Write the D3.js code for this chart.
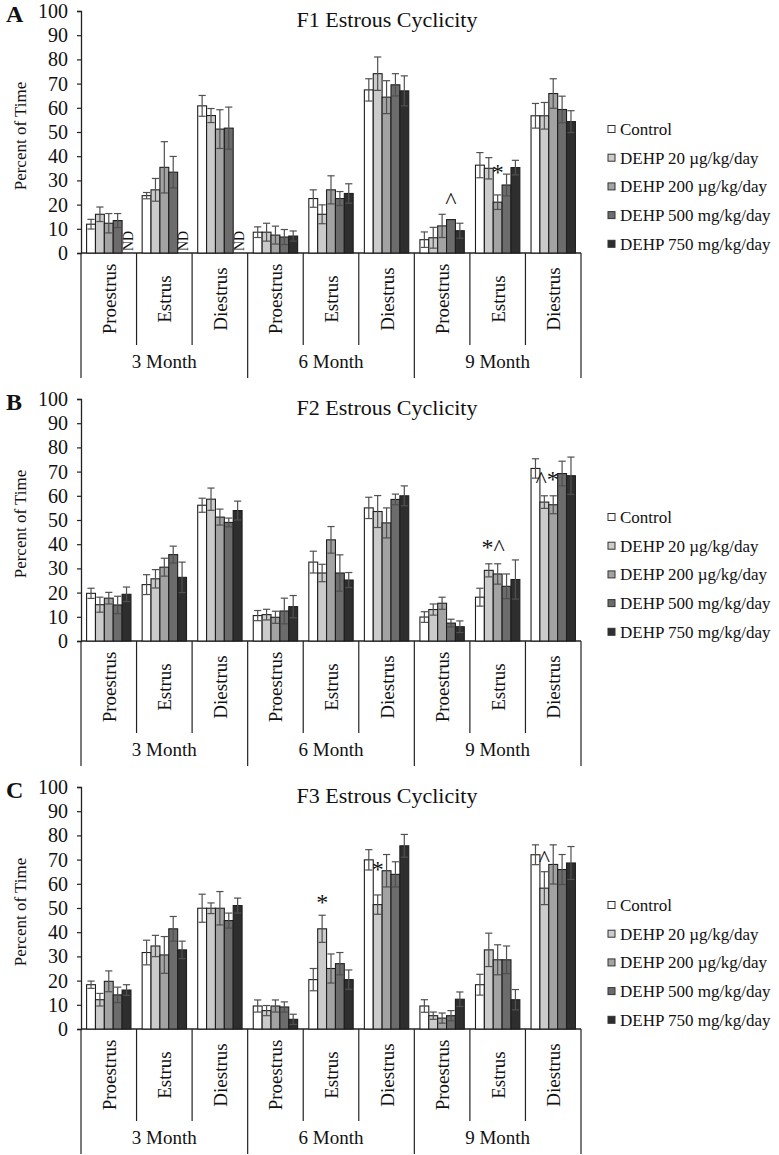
<!DOCTYPE html>
<html>
<head>
<meta charset="utf-8">
<script src="https://cdn.jsdelivr.net/npm/d3@7"></script>
<style>
html,body{margin:0;padding:0;background:#fff;}
svg text{font-family:"Liberation Serif","Times New Roman",serif;fill:#111;}
</style>
</head>
<body>
<svg id="chart" width="779" height="1155"></svg>
<script>
// ---------------- DATA ----------------
const months = ["3 Month", "6 Month", "9 Month"];
const phases = ["Proestrus", "Estrus", "Diestrus"];
const seriesNames = ["Control", "DEHP 20 µg/kg/day", "DEHP 200 µg/kg/day", "DEHP 500 mg/kg/day", "DEHP 750 mg/kg/day"];
const seriesColors = ["#ffffff", "#cbcbcb", "#a3a3a3", "#6c6c6c", "#2e2e2e"];
const yTicks = [0, 10, 20, 30, 40, 50, 60, 70, 80, 90, 100];
const panelLetters = ["A", "B", "C"];
const panelTitles = ["F1 Estrous Cyclicity", "F2 Estrous Cyclicity", "F3 Estrous Cyclicity"];

// values per series, categories ordered 3mo P,E,D, 6mo P,E,D, 9mo P,E,D (null = ND)
const f1Means = [
  [11.9, 23.7, 60.8, 8.6, 22.5, 67.4, 5.5, 36.3, 56.7],
  [16.0, 26.1, 56.8, 8.6, 16.0, 74.1, 6.3, 35.0, 56.7],
  [12.3, 35.4, 51.2, 7.4, 26.1, 64.4, 11.2, 21.0, 65.9],
  [13.4, 33.4, 51.6, 6.6, 22.5, 69.5, 13.8, 28.1, 59.3],
  [null, null, null, 7.0, 24.6, 67.0, 9.2, 35.3, 54.3]
];
const f1Errors = [
  [2.0, 1.3, 4.3, 2.2, 3.6, 4.6, 3.2, 5.2, 5.1],
  [3.0, 4.7, 2.9, 3.7, 3.9, 6.9, 4.3, 4.4, 5.5],
  [4.0, 10.6, 8.0, 3.7, 5.8, 6.8, 4.8, 3.0, 6.1],
  [2.9, 6.5, 8.7, 3.1, 2.9, 4.6, 0.0, 4.5, 5.5],
  [null, null, null, 2.1, 4.0, 6.2, 3.1, 3.0, 4.5]
];
const f2Means = [
  [19.7, 23.3, 56.1, 10.5, 32.6, 55.0, 9.9, 18.1, 71.3],
  [15.0, 25.7, 58.6, 10.9, 28.1, 53.5, 13.0, 29.2, 57.4],
  [17.7, 30.5, 51.2, 9.8, 41.8, 48.8, 15.6, 27.7, 56.3],
  [14.9, 35.7, 49.0, 12.4, 28.1, 58.5, 7.4, 22.6, 69.2],
  [19.3, 26.3, 53.9, 14.2, 25.2, 60.0, 5.9, 25.4, 68.3]
];
const f2Errors = [
  [2.1, 4.1, 2.9, 2.1, 4.5, 4.4, 2.2, 3.7, 4.0],
  [3.1, 3.8, 4.6, 2.2, 3.6, 6.6, 2.3, 2.7, 2.6],
  [2.4, 3.7, 3.3, 2.5, 5.5, 6.2, 2.5, 4.2, 3.7],
  [3.6, 3.5, 1.8, 5.3, 7.5, 2.2, 1.6, 5.1, 5.1],
  [3.0, 6.3, 3.9, 4.6, 3.1, 4.1, 2.4, 8.1, 7.7]
];
const f3Means = [
  [18.3, 31.6, 49.9, 9.5, 20.4, 69.9, 9.5, 18.3, 72.0],
  [12.1, 34.3, 49.9, 7.6, 41.4, 51.4, 5.5, 32.7, 58.2],
  [19.7, 30.6, 49.9, 9.5, 25.0, 65.4, 4.5, 28.6, 68.0],
  [14.1, 41.4, 44.8, 9.1, 27.0, 63.9, 5.5, 28.6, 65.9],
  [16.1, 32.7, 51.0, 4.0, 20.4, 75.7, 12.3, 12.1, 68.6]
];
const f3Errors = [
  [1.5, 5.1, 5.8, 2.5, 4.6, 4.2, 2.6, 4.3, 4.1],
  [2.6, 4.4, 2.2, 2.1, 5.6, 4.0, 1.5, 6.9, 6.8],
  [4.3, 7.6, 6.9, 2.5, 6.0, 6.7, 2.1, 6.2, 8.1],
  [3.2, 5.1, 3.1, 2.1, 4.6, 5.2, 2.1, 5.7, 6.2],
  [2.2, 3.6, 3.1, 2.1, 4.0, 4.7, 3.0, 4.2, 6.8]
];
// significance marks: [category index, series position, label, value at baseline]
const f1Marks = [[6, 3, "^", 18.5], [7, 2, "*", 30.0]];
const f2Marks = [[7, 1.5, "*^", 35.6], [8, 1.3, "^*", 63.7]];
const f3Marks = [[4, 1, "*", 49.2], [5, 1, "*", 62.8], [8, 1, "^", 67.4]];

const panels = [
  {means: f1Means, errors: f1Errors, marks: f1Marks},
  {means: f2Means, errors: f2Errors, marks: f2Marks},
  {means: f3Means, errors: f3Errors, marks: f3Marks}
];

// ---------------- LAYOUT ----------------
const svg = d3.select("#chart");
const X0 = 81, X1 = 581;
const PANEL_BASE = [253, 641, 1029];
const PLOT_H = 242;
const SERIF = '"Liberation Serif","Times New Roman",serif';

const categories = [];
months.forEach(m => phases.forEach(p => categories.push(m + "|" + p)));

const xCat = d3.scaleBand().domain(categories).range([X0, X1]).paddingInner(0).paddingOuter(0);
const xSer = d3.scaleBand().domain(d3.range(seriesNames.length)).range([0, xCat.bandwidth()]).paddingInner(0).paddingOuter(0.63);
const serCenter = s => xSer(0) + (s + 0.5) * xSer.step();

panels.forEach((pd, pi) => {
  const base = PANEL_BASE[pi];
  const y = d3.scaleLinear().domain([0, 100]).range([base, base - PLOT_H]);
  const g = svg.append("g");

  // y axis
  const yAxis = d3.axisLeft(y).tickValues(yTicks).tickSize(4).tickPadding(9).tickFormat(d3.format("d"));
  const ya = g.append("g").attr("transform", `translate(${X0},0)`).call(yAxis);
  ya.attr("font-family", SERIF);
  ya.select(".domain").attr("stroke", "#222").attr("stroke-width", 1.3);
  ya.selectAll(".tick line").attr("stroke", "#222").attr("stroke-width", 1.2);
  ya.selectAll(".tick text").style("font-size", "20px").style("font-family", SERIF).attr("fill", "#111");

  // x baseline
  g.append("line").attr("x1", X0).attr("x2", X1).attr("y1", y(0)).attr("y2", y(0))
    .attr("stroke", "#222").attr("stroke-width", 1.3);

  // category separators
  categories.forEach((c, ci) => {
    const xs = xCat(c);
    const isGroup = ci % 3 === 0;
    g.append("line").attr("x1", xs).attr("x2", xs).attr("y1", y(0))
      .attr("y2", y(0) + (isGroup ? 125 : 92)).attr("stroke", "#222").attr("stroke-width", 1.2);
  });
  g.append("line").attr("x1", X1).attr("x2", X1).attr("y1", y(0)).attr("y2", y(0) + 125)
    .attr("stroke", "#222").attr("stroke-width", 1.2);

  // rotated phase labels
  categories.forEach(c => {
    const cx = xCat(c) + xCat.bandwidth() / 2;
    const cy = y(0) + 46;
    g.append("text").attr("transform", `translate(${cx + 7},${cy}) rotate(-90)`)
      .attr("text-anchor", "middle").style("font-size", "19px").text(c.split("|")[1]);
  });
  // month labels
  months.forEach((m, mi) => {
    const xs = xCat(categories[mi * 3]);
    const xe = xCat(categories[mi * 3 + 2]) + xCat.bandwidth();
    g.append("text").attr("x", (xs + xe) / 2).attr("y", y(0) + 115)
      .attr("text-anchor", "middle").style("font-size", "19px").text(m);
  });

  // bars
  seriesNames.forEach((sn, si) => {
    categories.forEach((c, ci) => {
      const v = pd.means[si][ci];
      const bx = xCat(c) + xSer(si);
      if (v === null) {
        g.append("text").attr("transform", `translate(${bx + xSer.bandwidth() / 2 + 6},${y(0) - 2}) rotate(-90)`)
          .attr("text-anchor", "start").style("font-size", "14px").text("ND");
        return;
      }
      g.append("rect").attr("x", bx).attr("y", y(v)).attr("width", xSer.bandwidth())
        .attr("height", y(0) - y(v)).attr("fill", seriesColors[si])
        .attr("stroke", "#1e1e1e").attr("stroke-width", 1.1);
    });
  });
  // error bars
  seriesNames.forEach((sn, si) => {
    categories.forEach((c, ci) => {
      const v = pd.means[si][ci], e = pd.errors[si][ci];
      if (v === null || !e) return;
      const cx = xCat(c) + xSer(si) + xSer.bandwidth() / 2;
      const hw = 3.6;
      const col = "#505050";
      g.append("line").attr("x1", cx).attr("x2", cx).attr("y1", y(v - e)).attr("y2", y(v + e))
        .attr("stroke", col).attr("stroke-width", 1.2);
      [v - e, v + e].forEach(t => {
        g.append("line").attr("x1", cx - hw).attr("x2", cx + hw).attr("y1", y(t)).attr("y2", y(t))
          .attr("stroke", col).attr("stroke-width", 1.2);
      });
    });
  });

  // significance marks
  pd.marks.forEach(([ci, s, lab, v]) => {
    g.append("text").attr("x", xCat(categories[ci]) + serCenter(s)).attr("y", y(v))
      .attr("text-anchor", "middle").style("font-size", "24px").attr("fill", "#111").text(lab);
  });

  // title & panel letter
  g.append("text").attr("x", 387).attr("y", y(0) - 226).attr("text-anchor", "middle")
    .style("font-size", "22px").text(panelTitles[pi]);
  g.append("text").attr("x", 6).attr("y", y(0) - 231).style("font-size", "24px")
    .style("font-weight", "bold").text(panelLetters[pi]);

  // y axis title
  g.append("text").attr("transform", `translate(26,${y(50) + 4}) rotate(-90)`)
    .attr("text-anchor", "middle").style("font-size", "17px").text("Percent of Time");

  // legend
  seriesNames.forEach((sn, si) => {
    const ry = y(0) - 124 + si * 28.7;
    g.append("rect").attr("x", 608).attr("y", ry - 3.5).attr("width", 7).attr("height", 7)
      .attr("fill", seriesColors[si]).attr("stroke", "#333").attr("stroke-width", 1);
    g.append("text").attr("x", 620).attr("y", ry + 6).style("font-size", "17px").text(sn);
  });
});
</script>
</body>
</html>
